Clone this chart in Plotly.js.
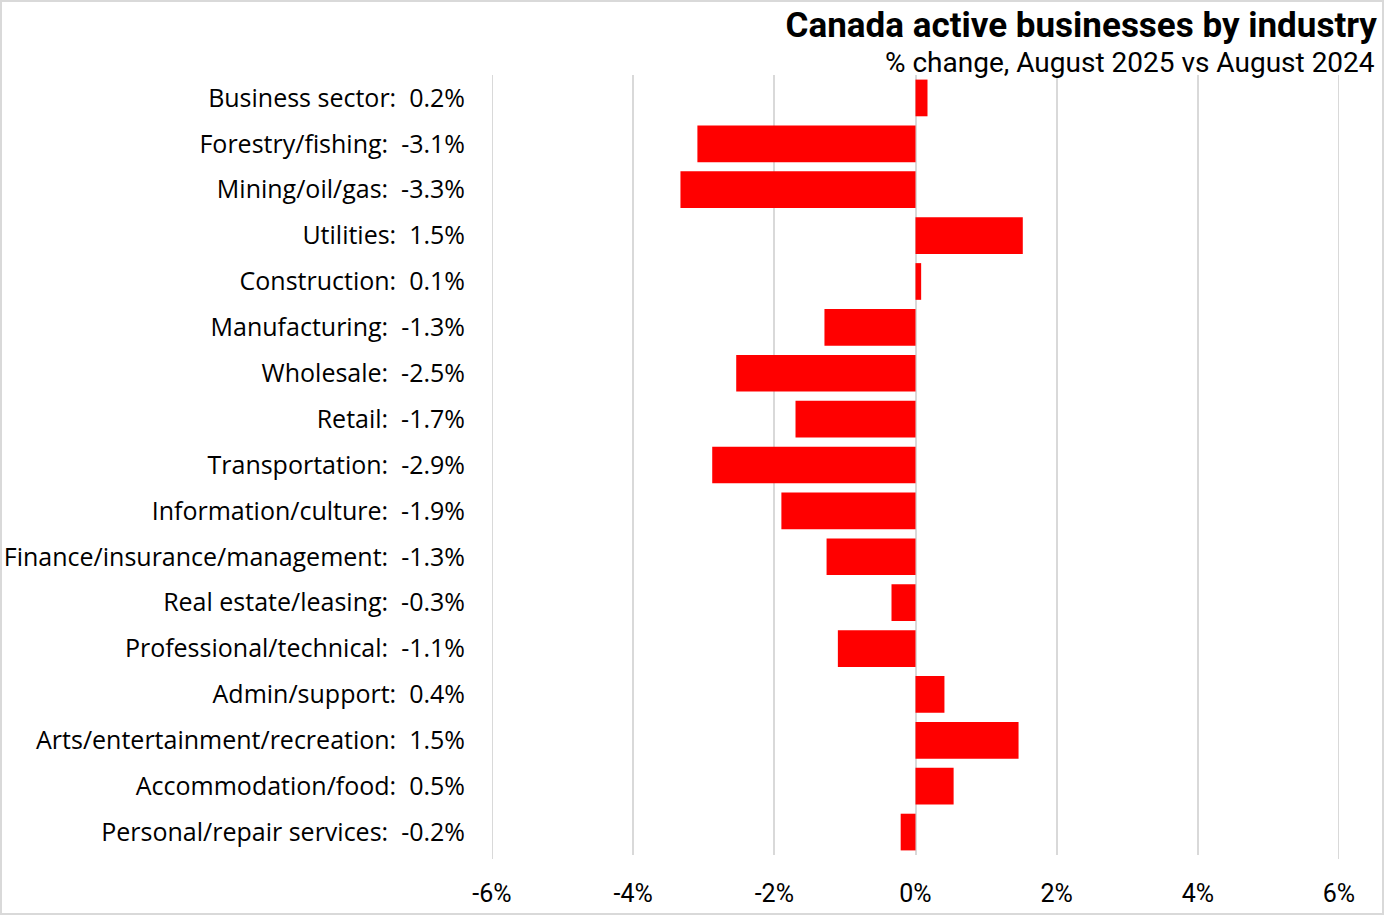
<!DOCTYPE html>
<html>
<head>
<meta charset="utf-8">
<script src="https://cdn.plot.ly/plotly-3.0.1.min.js"></script>
<style>
html,body{margin:0;padding:0;background:#fff;}
#wrap{position:relative;width:1384px;height:915px;}
#chart{width:1384px;height:915px;}
#frame{position:absolute;left:0;top:0;width:1384px;height:915px;box-sizing:border-box;border:2px solid #d9d9d9;pointer-events:none;}
</style>
</head>
<body>
<div id="wrap"><div id="chart"></div><div id="frame"></div></div>
<script>
const industries = [
  "Business sector", "Forestry/fishing", "Mining/oil/gas", "Utilities",
  "Construction", "Manufacturing", "Wholesale", "Retail", "Transportation",
  "Information/culture", "Finance/insurance/management", "Real estate/leasing",
  "Professional/technical", "Admin/support", "Arts/entertainment/recreation",
  "Accommodation/food", "Personal/repair services"
];
const changePct = [
  0.17, -3.09, -3.33, 1.52,
  0.08, -1.29, -2.54, -1.70, -2.88,
  -1.90, -1.26, -0.34,
  -1.10, 0.41, 1.46,
  0.54, -0.21
];
const xTickVals = [-6, -4, -2, 0, 2, 4, 6];
const xTickText = ["-6%", "-4%", "-2%", "0%", "2%", "4%", "6%"];

const yLabels = industries.map((c, i) => c + ":\u00a0\u00a0" + changePct[i].toFixed(1) + "%");

const trace = {
  type: "bar",
  orientation: "h",
  x: changePct,
  y: yLabels,
  marker: {color: "#ff0000", line: {width: 0}},
  hoverinfo: "x+y"
};

// edge gridlines (Plotly omits grid lines that sit on the plot border)
const edgeShapes = [xTickVals[0], xTickVals[xTickVals.length - 1]].map(v => ({
  type: "line", layer: "below",
  xref: "x", yref: "paper",
  x0: v, x1: v, y0: -4/780, y1: 1,
  line: {color: "#d9d9d9", width: 2}
}));

const layout = {
  width: 1384,
  height: 915,
  margin: {l: 492, r: 45, t: 75, b: 60},
  paper_bgcolor: "#ffffff",
  plot_bgcolor: "#ffffff",
  showlegend: false,
  bargap: 0.2,
  font: {family: "'Open Sans', sans-serif", color: "#000"},
  shapes: edgeShapes,
  title: {
    text: "<b>Canada active businesses by industry</b>",
    font: {family: "Roboto, sans-serif", size: 35, color: "#000"},
    xref: "container", x: 1377/1384, xanchor: "right",
    yref: "container", y: 1 - 25/915, yanchor: "middle"
  },
  annotations: [{
    text: "% change, August 2025 vs August 2024",
    xref: "paper", yref: "paper",
    x: (1377-492)/847, xanchor: "right",
    y: 1 + 13/780, yanchor: "middle",
    showarrow: false,
    font: {family: "Roboto, sans-serif", size: 28, color: "#000"}
  }],
  xaxis: {
    range: [-6, 6],
    tickvals: xTickVals,
    ticktext: xTickText,
    showgrid: true,
    gridcolor: "#d9d9d9",
    gridwidth: 2,
    zeroline: false,
    showline: false,
    ticks: "",
    ticklabelstandoff: 21,
    tickfont: {family: "Roboto, sans-serif", size: 25, color: "#000"},
    fixedrange: true
  },
  yaxis: {
    type: "category",
    autorange: "reversed",
    showgrid: false,
    zeroline: false,
    showline: false,
    ticks: "",
    ticklabelstandoff: 26,
    tickfont: {family: "'Open Sans', sans-serif", size: 25, color: "#000"},
    fixedrange: true
  }
};

Plotly.newPlot("chart", [trace], layout, {displayModeBar: false, staticPlot: true});
</script>
</body>
</html>
